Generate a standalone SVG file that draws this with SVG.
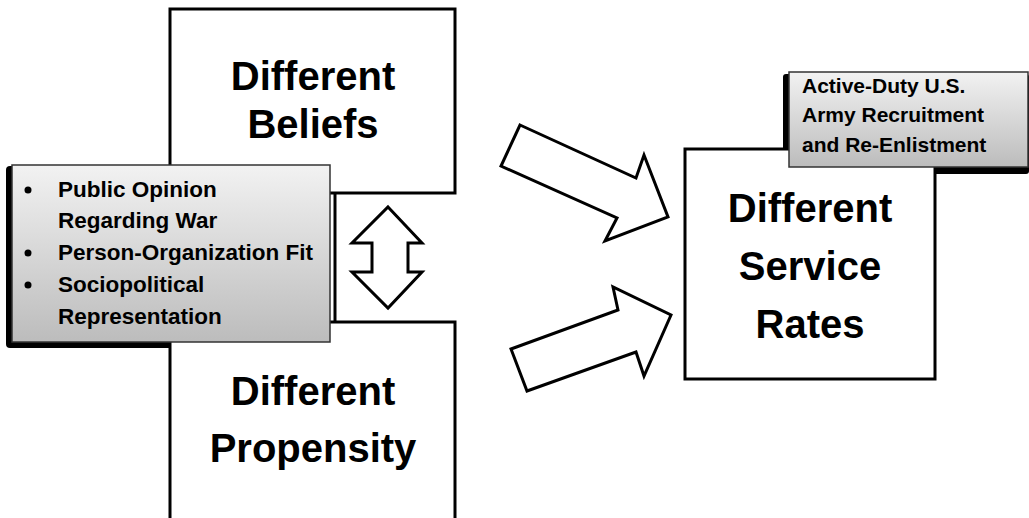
<svg xmlns="http://www.w3.org/2000/svg" width="1029" height="518" viewBox="0 0 1029 518">
<style>
.box{fill:#fff;stroke:#000;stroke-width:3}
.arrow{fill:#fff;stroke:#000;stroke-width:3;stroke-linejoin:miter}
.shadow{fill:#000}
.gray{fill:url(#g);stroke:#333;stroke-width:1.5}
.big{font-family:"Liberation Sans",Arial,sans-serif;font-weight:bold;font-size:40px;fill:#000;text-anchor:middle}
.small{font-family:"Liberation Sans",Arial,sans-serif;font-weight:bold;font-size:22.5px;fill:#000}
.note{font-family:"Liberation Sans",Arial,sans-serif;font-weight:bold;font-size:21px;fill:#000}
</style>
<defs>
<linearGradient id="g" x1="0" y1="0" x2="0" y2="1">
<stop offset="0" stop-color="#f2f2f2"/>
<stop offset="1" stop-color="#bcbcbc"/>
</linearGradient>
</defs>
<g id="shadows">
<rect class="shadow" x="6" y="166" width="318" height="182" rx="4"/>
<rect class="shadow" x="783" y="74" width="246" height="100" rx="3"/>
</g>
<g id="beliefs">
<rect class="box" x="170" y="9" width="285" height="184"/>
<text class="big" x="313" y="90">Different</text>
<text class="big" x="313" y="138">Beliefs</text>
</g>
<g id="propensity">
<rect class="box" x="170" y="322" width="285" height="210"/>
<text class="big" x="313" y="405">Different</text>
<text class="big" x="313" y="462">Propensity</text>
</g>
<g id="service">
<rect class="box" x="685" y="149" width="250" height="230"/>
<text class="big" x="810" y="222">Different</text>
<text class="big" x="810" y="280">Service</text>
<text class="big" x="810" y="338">Rates</text>
</g>
<g id="connectors">
<line x1="335" y1="192" x2="335" y2="323" stroke="#000" stroke-width="3"/>
<polygon class="arrow" points="520,125 636,178 644,155 668,217 605,241 617,218 501,166"/>
<polygon class="arrow" points="511,349 618,310 613,287 671,315 644,376 636,352 527,391"/>
<polygon class="arrow" points="388,207 422,243 408,243 408,272 422,272 388,308 352,272 372,272 372,243 352,243"/>
</g>
<g id="factors">
<rect class="gray" x="12" y="165" width="318" height="177"/>
<circle cx="28" cy="190" r="3.5"/>
<circle cx="28" cy="253" r="3.5"/>
<circle cx="28" cy="285" r="3.5"/>
<text class="small" x="58" y="197">Public Opinion</text>
<text class="small" x="58" y="228">Regarding War</text>
<text class="small" x="58" y="260">Person-Organization Fit</text>
<text class="small" x="58" y="292">Sociopolitical</text>
<text class="small" x="58" y="324">Representation</text>
</g>
<g id="context">
<rect class="gray" x="789" y="72" width="239" height="95"/>
<text class="note" x="802" y="93">Active-Duty U.S.</text>
<text class="note" x="802" y="122">Army Recruitment</text>
<text class="note" x="802" y="152">and Re-Enlistment</text>
</g>
</svg>
